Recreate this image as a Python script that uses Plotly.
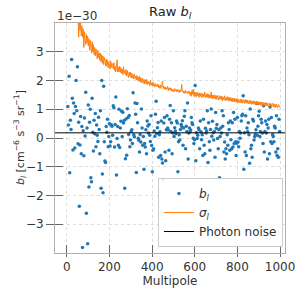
import plotly.graph_objects as go

# multipole bins (every 3rd multipole from 5 to 998)
ell = list(range(5, 1000, 3))

# raw b_l values in units of 1e-30 cm^-6 s^-3 sr^-1
b_l = [
    1.10, 0.45, 2.15, -1.21, 0.62, 0.30, 2.73, 1.38, -0.42, 1.22,
    0.85, -0.35, 1.10, 2.00, 0.95, 2.48, -0.20, 0.55, -2.37, -0.24,
    0.75, -0.55, 0.40, -3.81, 0.25, -0.62, 0.70, 0.07, 1.59, -2.62,
    0.35, -3.68, 1.15, -1.70, 0.55, 1.00, -1.38, -1.52, 1.38, 0.20,
    -0.45, 0.62, 0.15, 0.85, -0.30, 0.45, 0.10, -0.12, 0.72, 0.30,
    -0.55, 0.95, -1.75, 2.00, -1.25, -1.90, 1.80, -0.13, -0.80, -0.85,
    0.40, 0.20, 0.65, -0.30, 0.05, 0.50,
    -0.28, -0.13, 0.46, 0.41, 0.10, 1.12, 1.05, -0.31, 0.47, 1.43,
    -1.29, -0.02, 0.40, -0.25, 1.00, -0.33, 0.35, 0.58, 0.93, 0.05,
    0.90, 0.52, 0.61, -1.75, -0.72, 0.66, -0.60, 1.02, 0.71, 0.12,
    0.78, -0.30, -0.07, 0.23, 0.29, -0.19, 1.57, 0.11, 0.04, 1.22,
    0.83, -1.20, 1.20, 0.53, -0.01, -0.08, -0.49, 0.12, -0.14, 1.01,
    0.35, -0.25, 0.05, -1.09, -0.19, -0.31, 0.29, -0.55, 0.59, 0.42,
    0.17, 0.47, 0.10, -0.12, 0.77, -0.26, -1.17, -0.43, -0.37, 0.24,
    0.06, 0.83, 1.28, 0.16, 0.36, 0.54, -0.67, 0.11, 0.22, -0.61,
    0.59, -0.73, -0.87, -1.44, 0.52, 0.71, -0.49, -0.79, 0.29, 0.77,
    0.35, 0.28, -0.43, 0.65, 1.13, 0.23, 0.53, -0.55, 0.17, 0.95,
    0.05, 0.36, 0.24, 0.15, 0.59, 0.52, -1.17, -0.13, 0.11, -0.07,
    0.30, 0.47, 0.40, 0.60, -0.25, 0.35, 0.76, 0.95, -0.37, 0.41,
    0.23, 1.22, -0.73, 0.17, 0.35, 0.22, 0.28, 0.71, 0.53, 0.47,
    -0.01, -0.19, -0.06, 1.83, -0.79, 0.18, -0.02, 0.10, 0.35, 0.29,
    -0.37, 0.59, 0.22, -0.06, 0.11, -0.61, 0.65, -0.25, -0.55, 0.34,
    0.17, 0.24, 0.95, -0.85, 0.53, -0.13, -0.43, 0.30, 1.01, 0.06,
    0.58, 0.18, -0.07, 0.23, -0.67, 0.89, 0.34, 0.47, -0.02, -0.37,
    0.29, -1.38, 0.05, 0.35, 0.17, 0.95, 0.41, 0.77, -0.49, -0.14,
    -0.73, -0.37, -0.55, 0.11, -0.25, 0.53, 0.30, -0.43, 0.59, -0.06,
    -0.37, 0.53, -0.31, 0.89, -0.19, 0.65, -0.13, -0.61, -0.18, 0.71,
    -0.14, -0.30, 0.23, -0.01, 0.17, 0.59, 0.77, 0.83, 1.47, -1.09,
    0.18, -0.49, 0.77, -0.61, 0.35, 0.22, 0.53, 0.11, -0.88, 1.01,
    -0.37, -0.25, -0.67, 0.65, 0.59, -0.07, 0.05, 0.12, 0.29, 1.20,
    0.10, 0.41, 0.77, 0.93, 0.05, 0.23, 0.65, 0.53, 0.17, -0.19,
    1.12, -0.49, 0.23, 0.59, 0.17, 0.47, -0.73, 0.35, 0.65, -0.55,
    1.08, -0.13, 0.71, -0.19, 0.11, 0.05, -0.13, 0.41, 0.35, -0.49,
    0.77, -0.61, -0.37, -0.67, 0.65, 0.23,
]

# sigma_l values in units of 1e-30
sigma_l = [
    12.3, 9.2, 8.4, 6.9, 6.8, 6.3, 5.4, 5.5, 4.9, 5.1,
    4.5, 4.8, 4.2, 4.45, 4.0, 4.35, 4.2, 3.5, 4.05, 3.75,
    4.05, 3.55, 3.9, 3.5, 3.8, 3.15, 3.7, 3.45, 3.25, 3.6,
    3.3, 3.55, 3.2, 3.45, 3.05, 3.4, 3.15, 2.95, 3.35, 3.0,
    3.25, 2.9, 3.15, 2.85, 3.1, 3.0, 2.75, 3.05, 2.8, 2.95,
    2.7, 2.95, 2.65, 2.9, 2.6, 2.85, 2.55, 2.8, 2.7, 2.5,
    2.75, 2.5, 2.7, 2.45, 2.65, 2.55, 2.4, 2.68, 2.45, 2.6,
    2.55, 2.4, 2.62, 2.35, 2.5, 2.3, 2.55, 2.72, 2.3, 2.45,
    2.3, 2.5, 2.28, 2.45, 2.25, 2.4, 2.2, 2.48, 2.25, 2.35,
    2.2, 2.38, 2.15, 2.35, 2.2, 2.1, 2.3, 2.15, 2.28, 2.08,
    2.25, 2.1, 2.2, 2.05, 2.22, 2.08, 2.15, 2.02, 2.18, 2.0,
    2.12, 1.98, 2.15, 1.95, 2.1, 1.92, 2.08, 2.0, 1.9, 2.05,
    1.88, 2.02, 1.9, 2.05, 1.85, 1.98, 1.88, 1.95, 1.82, 2.0,
    1.85, 1.92, 1.8, 1.95, 1.82, 1.88, 1.78, 1.9, 1.8, 1.85,
    1.78, 1.88, 1.75, 1.82, 1.72, 1.85, 1.76, 1.8, 1.98, 1.72,
    1.8, 1.7, 1.78, 1.68, 1.75, 1.7, 1.8, 1.65, 1.74, 1.68,
    1.75, 1.65, 1.72, 1.62, 1.7, 1.66, 1.6, 1.72, 1.64, 1.68,
    1.6, 1.7, 1.62, 1.66, 1.58, 1.68, 1.6, 1.64, 1.86, 1.6,
    1.64, 1.56, 1.62, 1.55, 1.66, 1.58, 1.6, 1.54, 1.63, 1.57,
    1.62, 1.48, 1.6, 1.45, 1.66, 1.52, 1.70, 1.47, 1.6, 1.44,
    1.58, 1.44, 1.6, 1.47, 1.55, 1.41, 1.57, 1.45, 1.56, 1.42,
    1.55, 1.41, 1.53, 1.44, 1.6, 1.4, 1.52, 1.43, 1.54, 1.39,
    1.52, 1.38, 1.5, 1.41, 1.6, 1.37, 1.49, 1.36, 1.5, 1.38,
    1.49, 1.35, 1.47, 1.34, 1.48, 1.37, 1.32, 1.47, 1.35, 1.45,
    1.33, 1.45, 1.3, 1.42, 1.34, 1.47, 1.29, 1.4, 1.32, 1.44,
    1.3, 1.42, 1.28, 1.41, 1.3, 1.4, 1.27, 1.39, 1.26, 1.38,
    1.25, 1.38, 1.27, 1.37, 1.24, 1.36, 1.23, 1.35, 1.26, 1.22,
    1.35, 1.22, 1.34, 1.21, 1.33, 1.25, 1.2, 1.34, 1.22, 1.32,
    1.2, 1.32, 1.22, 1.18, 1.31, 1.2, 1.3, 1.17, 1.29, 1.19,
    1.29, 1.17, 1.28, 1.19, 1.15, 1.28, 1.17, 1.27, 1.14, 1.25,
    1.15, 1.26, 1.13, 1.25, 1.14, 1.24, 1.12, 1.23, 1.11, 1.22,
    1.23, 1.11, 1.22, 1.12, 1.09, 1.21, 1.1, 1.2, 1.08, 1.19,
    1.2, 1.08, 1.19, 1.07, 1.17, 1.06, 1.18, 1.09, 1.05, 1.16,
    1.14, 1.06,
]

photon_noise = 0.18  # in units of 1e-30

x_ticks = [0, 200, 400, 600, 800, 1000]
y_ticks = [-3, -2, -1, 0, 1, 2, 3]
x_range = [-55, 1023]
y_range = [-4.0, 4.0]

FONT = "DejaVu Sans"
TXT = "#333333"
SPINE = "#b0b0b0"
GRID = "#dddddd"

fig = go.Figure()

fig.add_trace(go.Scatter(
    x=ell, y=b_l, mode="markers", name="<i>b<sub>l</sub></i>",
    marker=dict(color="#1f77b4", size=3.5, line=dict(width=0)),
))
fig.add_trace(go.Scatter(
    x=ell, y=sigma_l, mode="lines", name="<i>σ<sub>l</sub></i>",
    line=dict(color="#ff7f0e", width=1),
))
fig.add_trace(go.Scatter(
    x=[None], y=[None], mode="lines", name="Photon noise",
    line=dict(color="black", width=1),
))
fig.add_hline(y=photon_noise, line=dict(color="black", width=1))

# overlay axes for inward tick marks
fig.add_trace(go.Scatter(x=[None], y=[None], xaxis="x2", yaxis="y2",
                         showlegend=False, hoverinfo="skip"))

common = dict(showline=True, linecolor=SPINE, linewidth=1, mirror=True,
              showgrid=True, gridcolor=GRID, griddash="dot", gridwidth=1,
              zeroline=False, tickcolor="#666666", tickwidth=1, automargin=False,
              ticklabeloverflow="allow",
              tickfont=dict(family=FONT, size=12, color=TXT))

fig.update_layout(
    width=295, height=288,
    margin=dict(l=55, r=10, t=23, b=35),
    paper_bgcolor="white", plot_bgcolor="white",
    font=dict(family=FONT, size=12, color=TXT),
    xaxis=dict(range=x_range, tickvals=x_ticks, ticks="outside", ticklen=3,
               title=dict(text="Multipole", font=dict(family=FONT, size=12, color=TXT), standoff=3),
               **common),
    yaxis=dict(range=y_range, tickvals=y_ticks, ticks="outside", ticklen=8,
               **common),
    xaxis2=dict(overlaying="x", matches="x", range=x_range, tickvals=x_ticks,
                ticks="inside", ticklen=8, tickcolor="#666666", automargin=False,
                showticklabels=False, showgrid=False, showline=False, zeroline=False),
    yaxis2=dict(overlaying="y", matches="y", range=y_range, tickvals=y_ticks,
                ticks="inside", ticklen=8, tickcolor="#666666", automargin=False,
                showticklabels=False, showgrid=False, showline=False, zeroline=False),
    legend=dict(x=0.991, y=0.026, xanchor="right", yanchor="bottom",
                bgcolor="rgba(255,255,255,0.85)", bordercolor="#cccccc", borderwidth=1,
                font=dict(family=FONT, size=12, color=TXT), itemwidth=30,
                tracegroupgap=0),
    showlegend=True,
)

fig.add_annotation(text="Raw <i>b<sub>l</sub></i>", xref="paper", yref="paper",
                   x=0.5, y=1.0, yshift=0, xanchor="center", yanchor="bottom",
                   showarrow=False, font=dict(family=FONT, size=13, color="#222222"))
fig.add_annotation(text="1e−30", xref="paper", yref="paper",
                   x=0.0, y=1.0, xanchor="left", yanchor="bottom", yshift=-2,
                   showarrow=False, font=dict(family=FONT, size=12, color=TXT))
fig.add_annotation(text="<i>b<sub>l</sub></i> [cm<sup>−6</sup> s<sup>−3</sup> sr<sup>−1</sup>]",
                   xref="paper", yref="paper", x=-0.152, y=0.5, textangle=-90,
                   xanchor="center", yanchor="middle", showarrow=False,
                   font=dict(family=FONT, size=11, color=TXT))

fig.write_html("out.html", config={"displayModeBar": False},
               post_script="document.body.style.margin='0';document.body.style.padding='0';")
